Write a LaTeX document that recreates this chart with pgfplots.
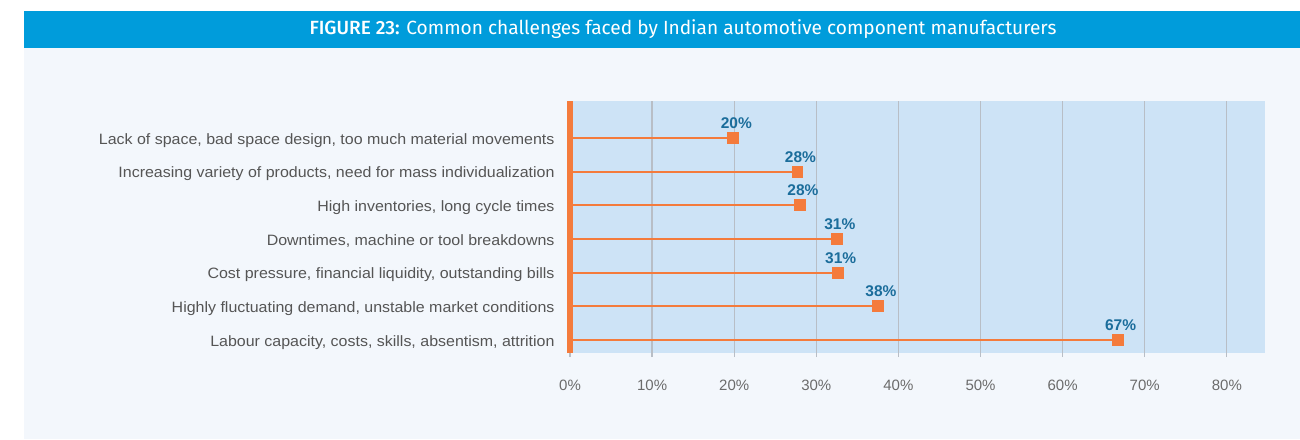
\documentclass[border=0pt]{standalone}
\usepackage{fontspec}
\setmainfont{Liberation Sans}
\newfontfamily\titlefont{Fira Sans}
\newfontfamily\titlemed{Fira Sans Medium}
\newfontfamily\catfont[FakeStretch=1.065]{Liberation Sans}
\usepackage{pgfplots}
\pgfplotsset{compat=1.18}
\definecolor{titleblue}{HTML}{009CDB}
\definecolor{panel}{HTML}{F3F7FC}
\definecolor{plotblue}{HTML}{CDE3F6}
\definecolor{barorange}{HTML}{F47B3C}
\definecolor{gridgray}{HTML}{B8BEC6}
\definecolor{valblue}{HTML}{1B6D9B}
\definecolor{catgray}{HTML}{555555}
\definecolor{tickgray}{HTML}{6B6B6B}
\pgfplotstableread{
x y lab
66.7 0 67
37.5 1 38
32.6 2 31
32.5 3 31
28.0 4 28
27.7 5 28
19.9 6 20
}\datatable
\begin{document}
\begin{tikzpicture}[x=1pt,y=1pt]
\useasboundingbox (0,0) rectangle (1300,439);
\fill[white] (0,0) rectangle (1300,439);
\fill[panel] (24,0) rectangle (1300,391);
\fill[titleblue] (24,391) rectangle (1300,428);
\node[text=white, font=\titlefont\fontsize{19.1}{21}\selectfont] at (683,409.5) {{\titlemed FIGURE 23:} Common challenges faced by Indian automotive component manufacturers};
\begin{axis}[
  at={(570pt,86pt)}, anchor=south west,
  scale only axis, width=695pt, height=252pt,
  xmin=0, xmax=84.65, ymin=-0.386, ymax=7.1,
  clip=false,
  axis x line*=bottom, axis y line*=left,
  axis line style={draw=none},
  axis background/.style={fill=plotblue},
  xmajorgrids, grid style={gridgray, line width=1.3pt},
  xtick={0,10,...,80},
  xticklabel={\pgfmathprintnumber{\tick}\%},
  /pgf/number format/assume math mode=true,
  tick align=outside,
  x tick style={draw=gridgray, line width=1.3pt},
  major tick length=4pt,
  y tick style={draw=none},
  xticklabel style={font=\fontsize{15}{17}\selectfont, text=tickgray, yshift=-19pt},
  ytick={0,...,6},
  yticklabels={{Labour capacity, costs, skills, absentism, attrition},
    {Highly fluctuating demand, unstable market conditions},
    {Cost pressure, financial liquidity, outstanding bills},
    {Downtimes, machine or tool breakdowns},
    {High inventories, long cycle times},
    {Increasing variety of products, need for mass individualization},
    {Lack of space, bad space design, too much material movements}},
  yticklabel style={font=\catfont\fontsize{15}{17}\selectfont, text=catgray, anchor=base east, xshift=-8pt, yshift=-6pt},
]
\addplot[xcomb, draw=barorange, line width=1.8pt, mark=square*, mark size=5pt,
  mark options={fill=barorange, draw=none},
  point meta=explicit symbolic,
  nodes near coords={\pgfplotspointmeta\%},
  every node near coord/.style={anchor=center, yshift=15pt, xshift=3pt,
    font=\bfseries\fontsize{15.5}{17}\selectfont, text=valblue}]
  table[x=x, y=y, meta=lab] {\datatable};
\draw[barorange, line width=6.6pt] (rel axis cs:0,0) -- (rel axis cs:0,1);
\end{axis}
\end{tikzpicture}
\end{document}
